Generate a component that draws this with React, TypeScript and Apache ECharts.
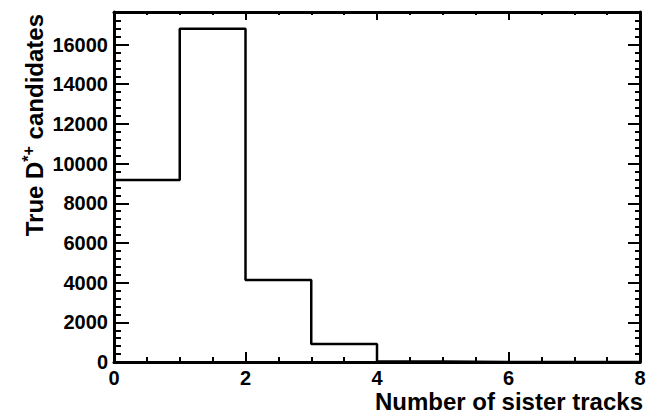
import React, { useEffect, useRef } from "react";
import * as echarts from "echarts";

// Histogram of sister-track multiplicity for true D*+ candidates
const binEdges = [0, 1, 2, 3, 4, 5, 6, 7, 8];
const binCounts = [9170, 16800, 4130, 906, 30, 4, 0, 0];
const yMax = 17640;
const xTitle = "Number of sister tracks";
const yTitleParts = ["True D", "*+", " candidates"];

const FONT = "'Liberation Sans', Arial, Helvetica, sans-serif";

export default function App() {
  const ref = useRef<HTMLDivElement>(null);

  useEffect(() => {
    if (!ref.current) return;
    document.body.style.margin = "0";
    const chart = echarts.init(ref.current, undefined, { renderer: "svg" });

    // step outline: each bin's left edge with its count, closing at the last edge
    const outline: number[][] = binCounts.map((c, i) => [binEdges[i], c]);
    outline.push([binEdges[binEdges.length - 1], binCounts[binCounts.length - 1]]);

    const labelStyle = {
      color: "#000",
      fontFamily: FONT,
      fontWeight: "bold" as const,
      fontSize: 20,
    };
    const frame = { show: true, onZero: false, lineStyle: { color: "#000", width: 3 } };

    chart.setOption({
      animation: false,
      backgroundColor: "#fff",
      grid: { left: 114, right: 11, top: 12, bottom: 55, containLabel: false },
      xAxis: [
        {
          type: "value",
          position: "bottom",
          min: 0,
          max: 8,
          interval: 2,
          axisLine: frame,
          axisTick: { show: true, inside: true, length: 10, lineStyle: { color: "#000", width: 2 } },
          minorTick: { show: true, splitNumber: 4, length: 5, lineStyle: { color: "#000", width: 2 } },
          splitLine: { show: false },
          axisLabel: { ...labelStyle, margin: 6 },
        },
        {
          type: "value",
          position: "top",
          min: 0,
          max: 8,
          interval: 2,
          axisLine: frame,
          axisTick: { show: true, inside: true, length: 8, lineStyle: { color: "#000", width: 2 } },
          minorTick: { show: true, splitNumber: 4, length: 3, lineStyle: { color: "#000", width: 2 } },
          splitLine: { show: false },
          axisLabel: { show: false },
        },
      ],
      yAxis: [
        {
          type: "value",
          position: "left",
          min: 0,
          max: yMax,
          interval: 2000,
          axisLine: frame,
          axisTick: { show: true, inside: true, length: 15, lineStyle: { color: "#000", width: 2 } },
          minorTick: { show: true, splitNumber: 5, length: 7, lineStyle: { color: "#000", width: 2 } },
          splitLine: { show: false },
          axisLabel: {
            ...labelStyle,
            margin: 6,
            showMaxLabel: false,
            formatter: (v: number) => (v % 2000 === 0 ? String(v) : ""),
          },
        },
        {
          type: "value",
          position: "right",
          min: 0,
          max: yMax,
          interval: 2000,
          axisLine: frame,
          axisTick: { show: true, inside: true, length: 12, lineStyle: { color: "#000", width: 2 } },
          minorTick: { show: true, splitNumber: 5, length: 5, lineStyle: { color: "#000", width: 2 } },
          splitLine: { show: false },
          axisLabel: { show: false },
        },
      ],
      series: [
        {
          type: "line",
          xAxisIndex: 0,
          yAxisIndex: 0,
          step: "end",
          data: outline,
          symbol: "none",
          lineStyle: { color: "#000", width: 2.5 },
          z: 1,
        },
      ],
      graphic: [
        {
          type: "text",
          x: 643,
          y: 401,
          style: {
            text: xTitle,
            fill: "#000",
            font: `bold 24px ${FONT}`,
            align: "right",
            verticalAlign: "middle",
          },
        },
        {
          type: "text",
          x: 34,
          y: 14,
          rotation: Math.PI / 2,
          style: {
            text: `{m|${yTitleParts[0]}}{s|${yTitleParts[1]}}{m|${yTitleParts[2]}}`,
            fill: "#000",
            fontFamily: FONT,
            fontWeight: "bold",
            fontSize: 24,
            align: "right",
            verticalAlign: "middle",
            rich: {
              m: { fontFamily: FONT, fontWeight: "bold", fontSize: 24, lineHeight: 28, fill: "#000" },
              s: { fontFamily: FONT, fontWeight: "bold", fontSize: 16, lineHeight: 16, verticalAlign: "top", fill: "#000" },
            },
          },
        },
      ],
    });

    return () => chart.dispose();
  }, []);

  return (
    <div
      ref={ref}
      style={{ position: "fixed", left: 0, top: 0, width: 651, height: 417 }}
    />
  );
}
